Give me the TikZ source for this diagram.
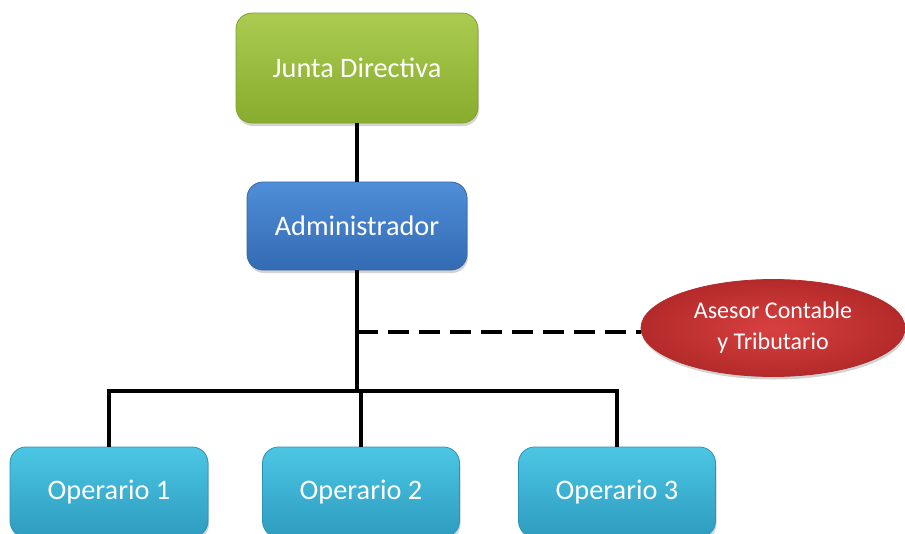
\documentclass[tikz,border=0pt]{standalone}
\usepackage{fontspec}
\setmainfont{Carlito}
\usetikzlibrary{shapes.geometric,shadows}
\definecolor{gTop}{HTML}{AACB50}
\definecolor{gBot}{HTML}{88AC2E}
\definecolor{gEdge}{HTML}{7F9F2E}
\definecolor{bTop}{HTML}{4F8ED8}
\definecolor{bBot}{HTML}{346BB3}
\definecolor{bEdge}{HTML}{3465A4}
\definecolor{cTop}{HTML}{4CC6E4}
\definecolor{cBot}{HTML}{2D9CBF}
\definecolor{cEdge}{HTML}{2B93B4}
\definecolor{rIn}{HTML}{D84040}
\definecolor{rOut}{HTML}{B42A2A}
\begin{document}
\begin{tikzpicture}[x=1pt,y=-1pt,
  boxstyle/.style={rectangle, rounded corners=16pt, draw, line width=0.8pt,
    text=white, font=\fontsize{28.3}{31}\selectfont,
    drop shadow={opacity=0.35, shadow xshift=1pt, shadow yshift=-3pt}},
  greenbox/.style={boxstyle, top color=gTop, bottom color=gBot, draw=gEdge},
  bluebox/.style={boxstyle, top color=bTop, bottom color=bBot, draw=bEdge},
  cyanbox/.style={boxstyle, top color=cTop, bottom color=cBot, draw=cEdge},
  redell/.style={ellipse, inner color=rIn, outer color=rOut, draw=rOut, line width=0.8pt,
    text=white, font=\fontsize{24}{31}\selectfont, align=center,
    drop shadow={opacity=0.35, shadow xshift=1pt, shadow yshift=-3pt}},
  conn/.style={line width=4pt, black},
  dashconn/.style={line width=4pt, black, dash pattern=on 21pt off 10pt}
]
\useasboundingbox (0,0) rectangle (905,533);

\node[greenbox, minimum width=242pt, minimum height=110pt] (junta) at (357,68) {Junta Directiva};
\node[bluebox, minimum width=220pt, minimum height=88pt] (admin) at (357,226) {Administrador};
\node[redell, minimum width=264pt, minimum height=97pt, inner sep=0pt] (ase) at (773,328) {Asesor Contable\\y Tributario};
\node[cyanbox, minimum width=198pt, minimum height=90pt] (op1) at (109,492) {Operario 1};
\node[cyanbox, minimum width=197pt, minimum height=90pt] (op2) at (361,492) {Operario 2};
\node[cyanbox, minimum width=197pt, minimum height=90pt] (op3) at (617,492) {Operario 3};

\coordinate (hub) at (357,391);
\coordinate (dstart) at (357,332);

\draw[conn] (junta.south) -- (admin.north);
\draw[conn] (admin.south) -- (hub);
\draw[conn] (op1.north) |- (hub) -| (op3.north);
\draw[conn] (hub -| op2.north) -- (op2.north);
\draw[dashconn] (dstart) -- (dstart -| ase.west);
\end{tikzpicture}
\end{document}
